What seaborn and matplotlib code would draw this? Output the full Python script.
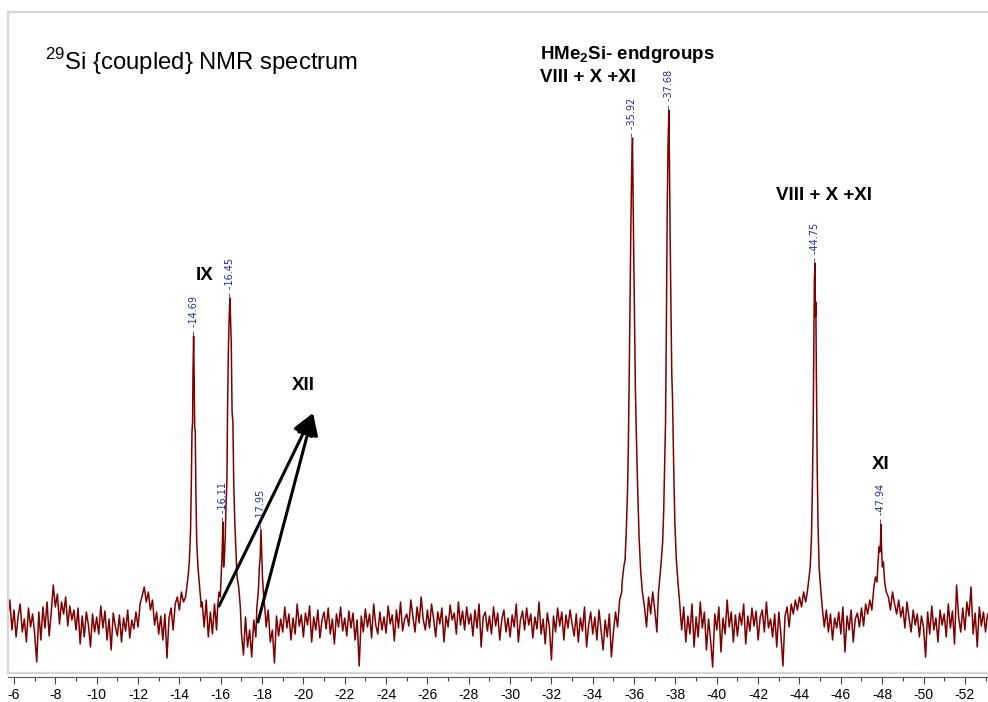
import numpy as np
import pandas as pd
import matplotlib
matplotlib.use('Agg')
import matplotlib.pyplot as plt
import seaborn as sns

# baseline samples, one every 0.1 ppm from -5.7 to -53.1 (intensity in arbitrary units)
baseline_start = -5.7
baseline_step = -0.1
baseline = [
    5, 22, -8,                                   # -5.7 .. -5.9
    12, -15, 6, 18, -10, 3, -20, 14, -5, 8,      # -6
    -12, -40, 10, -18, 15, -6, 20, -14, 9, 37,   # -7
    15, 28, -2, 20, 8, 25, -4, 16, 2, 12,        # -8
    -8, 14, -22, 6, -15, 10, -3, -25, 8, -10,    # -9
    5, -12, 16, -6, 11, -18, 3, -28, 9, -4,      # -10
    -14, 7, -20, 4, -9, 12, -16, 2, -7, 10,      # -11
    -5, 18, 26, 35, 20, 30, 12, 22, -3, 10,      # -12
    -12, 6, -18, 8, -36, 4, 14, -8, 18, 25,      # -13
    12, 30, 20, 25, 40, 60, 150, 200, 100, 40,   # -14
    25, 20, -5, 22, -15, 10, -12, 18, -8, 20,    # -15
    30, 90, 70, 150, 320, 200, 90, 50, 25, 15,   # -16
    -10, -33, 5, -25, -8, -35, 2, -15, 40, 80,   # -17
    30, 10, -5, 12, -20, -8, -41, 6, -14, 3,     # -18
    -10, 15, -6, 8, -18, 4, -12, 18, -4, 7,      # -19
    -15, 9, -3, 16, -20, 5, -8, 12, -16, 2,      # -20
    10, -7, 14, -12, 3, -22, 8, -5, 15, -9,      # -21
    4, -14, 11, -6, 9, -18, 2, -44, 6, -10,      # -22
    13, -5, 8, -16, 18, -3, -12, 10, -8, 5,      # -23
    -11, 16, -2, 7, -19, 12, -6, 20, -9, 3,      # -24
    8, -4, 22, 5, -10, 15, -1, 25, 2, -8,        # -25
    12, -6, 18, 3, -15, 10, -2, 14, -20, 6,      # -26
    -5, 17, 2, 9, -12, 20, -3, 11, -8, 15,       # -27
    -2, 8, -14, 12, -6, 18, -25, 5, 10, -9,      # -28
    6, -12, 15, -4, 9, -18, 3, 12, -10, 4,       # -29
    -15, 7, -5, 18, -20, 2, 11, -8, 14, -3,      # -30
    8, -16, 5, -7, 20, -12, 3, -22, 9, -5,       # -31
    -38, 6, -10, 14, -4, 10, -18, 7, -6, 12,     # -32
    -2, -14, 8, -20, 4, -9, 15, -25, -3, 10,     # -33
    -12, 5, -18, 12, -8, -28, 2, -15, 8, -35,    # -34
    -10, 10, -5, 22, 30, 60, 130, 300, 480, 300, # -35
    200, 130, 80, 50, 30, 15, -5, 25, 8, 30,     # -36
    12, -10, 35, 60, 110, 300, 500, 320, 200, 100,  # -37
    60, 40, 20, -8, 15, -20, 6, -12, 18, -25,    # -38
    5, -15, 20, -6, 10, -28, 3, -18, -45, 8,     # -39
    -8, 15, -30, 4, -12, 22, -5, 10, -20, 7,     # -40
    -14, 9, -3, 18, -22, 6, -9, 14, -4, 11,      # -41
    -18, 5, 12, -10, 20, -6, 3, -15, 8, -25,     # -42
    10, -12, -44, 6, 15, -5, 18, 8, 22, 12,      # -43
    25, 15, 30, 20, 40, 60, 130, 350, 240, 60,   # -44
    30, 15, -5, 12, -10, 8, -18, 4, -6, 10,      # -45
    -12, 15, -30, 6, -8, 12, -20, 3, 9, -5,      # -46
    14, -4, 18, 8, 22, 12, 35, 45, 70, 95,       # -47
    60, 45, 30, 25, 12, 30, 18, 8, 22, 5,        # -48
    15, -6, 20, 4, -10, 12, -3, 8, -15, 6,       # -49
    -5, -35, 10, -12, 16, -8, 4, -20, 12, -3,    # -50
    8, -15, 18, -6, 11, -22, 37, 5, -10, 14,     # -51
    -8, 20, 6, 35, -12, 9, -25, 15, -4, 10,      # -52
    -10, 8,                                      # -53.0 .. -53.1
]

# peak regions read at finer spacing
peak_1469_ppm = [-14.30, -14.36, -14.42, -14.48, -14.54, -14.58, -14.61, -14.64, -14.66,
                 -14.69, -14.72, -14.74, -14.77, -14.80, -14.84, -14.90, -14.98, -15.06]
peak_1469_int = [25, 35, 45, 60, 90, 140, 190, 200, 250,
                 286, 240, 195, 190, 130, 80, 55, 35, 15]

peak_1645_ppm = [-15.85, -15.92, -15.98, -16.03, -16.07, -16.11, -16.14, -16.18, -16.22,
                 -16.26, -16.30, -16.33, -16.37, -16.41, -16.45, -16.48, -16.51, -16.55,
                 -16.59, -16.63, -16.68, -16.73, -16.79, -16.87, -16.95]
peak_1645_int = [15, 30, 25, 50, 70, 100, 55, 65, 85,
                 120, 140, 210, 270, 305, 324, 300, 280, 210,
                 200, 140, 100, 75, 45, 35, 15]

peak_1795_ppm = [-17.75, -17.82, -17.87, -17.91, -17.95, -17.98, -18.02, -18.08, -18.15]
peak_1795_int = [15, 30, 55, 65, 92, 70, 45, 25, 10]

peak_3592_ppm = [-35.42, -35.50, -35.56, -35.62, -35.68, -35.72, -35.76, -35.80, -35.84,
                 -35.88, -35.92, -35.95, -35.98, -36.02, -36.06, -36.11, -36.17, -36.24,
                 -36.32, -36.40]
peak_3592_int = [40, 55, 62, 90, 130, 175, 240, 310, 390,
                 450, 484, 430, 370, 300, 235, 185, 135, 85,
                 50, 30]

peak_3768_ppm = [-37.18, -37.26, -37.32, -37.38, -37.43, -37.48, -37.52, -37.56, -37.60,
                 -37.64, -37.68, -37.71, -37.74, -37.78, -37.82, -37.86, -37.91, -37.97,
                 -38.04, -38.12, -38.20]
peak_3768_int = [30, 48, 63, 80, 110, 160, 200, 295, 410,
                 475, 512, 460, 390, 317, 250, 222, 160, 100,
                 63, 40, 20]

peak_4475_ppm = [-44.30, -44.38, -44.45, -44.52, -44.58, -44.62, -44.66, -44.69, -44.72,
                 -44.75, -44.77, -44.79, -44.82, -44.86, -44.90, -44.95, -45.02, -45.10]
peak_4475_int = [20, 30, 42, 55, 85, 130, 190, 270, 340,
                 359, 305, 320, 240, 150, 95, 55, 35, 15]

peak_4794_ppm = [-47.60, -47.68, -47.75, -47.80, -47.85, -47.89, -47.92, -47.94, -47.97,
                 -48.01, -48.06, -48.12, -48.20]
peak_4794_int = [35, 45, 40, 60, 75, 70, 80, 98, 75,
                 55, 60, 40, 30]

peak_labels = [-14.69, -16.11, -16.45, -17.95, -35.92, -37.68, -44.75, -47.94]

# put the spectrum together
peaks = [(peak_1469_ppm, peak_1469_int), (peak_1645_ppm, peak_1645_int),
         (peak_1795_ppm, peak_1795_int), (peak_3592_ppm, peak_3592_int),
         (peak_3768_ppm, peak_3768_int), (peak_4475_ppm, peak_4475_int),
         (peak_4794_ppm, peak_4794_int)]
base_ppm = np.round(baseline_start + baseline_step * np.arange(len(baseline)), 2)
base_int = np.array(baseline, dtype=float)
keep = np.ones(len(base_ppm), dtype=bool)
for p, _ in peaks:
    keep &= ~((base_ppm >= min(p)) & (base_ppm <= max(p)))
ppm = np.concatenate([base_ppm[keep]] + [np.array(p) for p, _ in peaks])
inten = np.concatenate([base_int[keep]] + [np.array(i, dtype=float) for _, i in peaks])
df = pd.DataFrame({'ppm': ppm, 'intensity': inten}).sort_values('ppm')

sns.set_style('white')
plt.rcParams['font.family'] = ['Liberation Sans', 'DejaVu Sans']
plt.rcParams['text.color'] = 'black'
plt.rcParams['xtick.color'] = 'black'
plt.rcParams['axes.unicode_minus'] = False
plt.rcParams['mathtext.fontset'] = 'custom'
plt.rcParams['mathtext.rm'] = 'Liberation Sans'
plt.rcParams['mathtext.bf'] = 'Liberation Sans:bold'

W, H = 988, 702
fig = plt.figure(figsize=(W / 100, H / 100), dpi=100)
ax = fig.add_axes([8 / W, 1 - 673 / H, 980 / W, 661 / H])

sns.lineplot(data=df, x='ppm', y='intensity', estimator=None, sort=True,
             color='#800000', linewidth=1.1, ax=ax)

ax.set_xlim(-5.71, -53.12)
ax.set_ylim(-51, 610)
ax.set_xlabel('')
ax.set_ylabel('')
ax.set_yticks([])
ax.set_xticks(np.arange(-6, -53, -2))
ax.set_xticks(np.arange(-7, -54, -2), minor=True)
ax.set_xticklabels([str(t) for t in np.arange(-6, -53, -2)], fontfamily='DejaVu Sans', fontsize=8)
ax.tick_params(axis='x', which='major', direction='out', length=5, width=0.8, color='#444444', pad=3)
ax.tick_params(axis='x', which='minor', direction='out', length=3, width=0.8, color='#444444')
ax.xaxis.set_ticks_position('bottom')

for side in ['left', 'top']:
    ax.spines[side].set_color('#d6d6d6')
    ax.spines[side].set_linewidth(1.6)
ax.spines['right'].set_visible(False)
ax.spines['bottom'].set_position(('outward', 3))
ax.spines['bottom'].set_color('#555555')
ax.spines['bottom'].set_linewidth(0.8)
ax.plot([0, 1], [0, 0], transform=ax.transAxes, color='#d6d6d6', lw=1.6, clip_on=False)

# peak picking labels
for v in peak_labels:
    near = df[(df['ppm'] - v).abs() < 0.03]['intensity'].max()
    ax.text(v, near + 1, f'\u2013 {v:.2f}', rotation=90, ha='center', va='bottom',
            fontsize=7, color='#2b2ba6', fontfamily='DejaVu Sans')

# arrows towards XII
for tail in [(-15.92, 16), (-17.8, 0)]:
    ax.annotate('', xy=(-20.47, 209), xytext=tail,
                arrowprops=dict(arrowstyle='-|>,head_length=0.6,head_width=0.3',
                                color='black', lw=2.2, mutation_scale=22,
                                shrinkA=0, shrinkB=0))

def px(x, y):
    return x / W, 1 - y / H

fig.text(*px(45, 70), r'$^{29}$Si {coupled} NMR spectrum', fontsize=17.2, va='baseline')
bold = dict(fontsize=13.5, fontweight='bold', va='baseline')
fig.text(*px(540, 59), r'HMe$_\mathbf{2}$Si- endgroups', **bold)
fig.text(*px(540, 82), 'VIII + X +XI', **bold)
fig.text(*px(776, 200), 'VIII + X +XI', **bold)
fig.text(*px(196, 280), 'IX', **bold)
fig.text(*px(292, 390), 'XII', **bold)
fig.text(*px(872, 469), 'XI', **bold)

fig.savefig('out.png', dpi=100)
